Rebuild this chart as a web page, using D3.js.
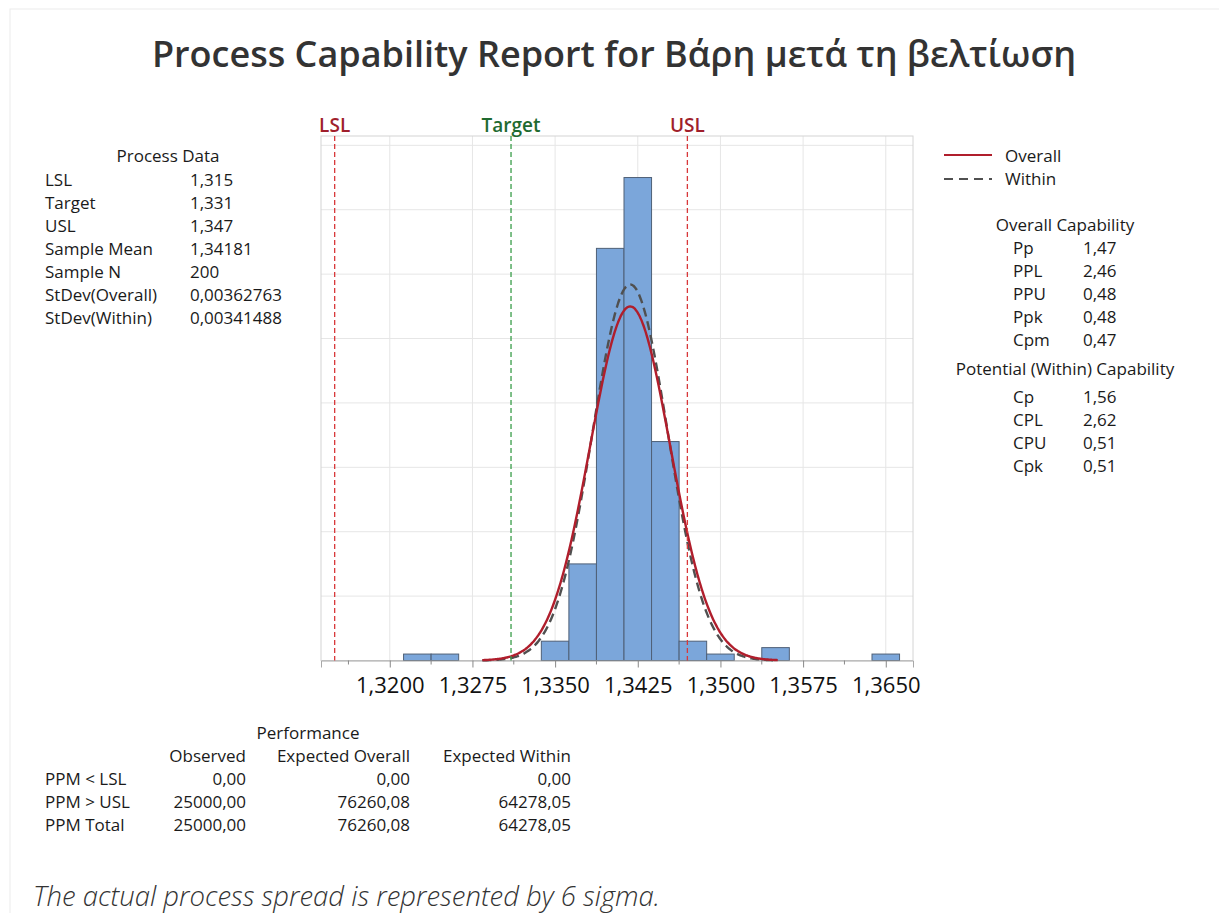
<!DOCTYPE html>
<html>
<head>
<meta charset="utf-8">
<script src="https://cdn.jsdelivr.net/npm/d3@7"></script>
<style>
  body { margin: 0; background: #fff; }
  svg { font-family: "Open Sans", "Noto Sans", sans-serif; }
</style>
</head>
<body>
<div id="chart"></div>
<script>
// histogram data (bin midpoints and frequencies)
var binCenters = [1.3225, 1.3250, 1.3350, 1.3375, 1.3400, 1.3425, 1.3450, 1.3475, 1.3500, 1.3550, 1.3650];
var counts = [1, 1, 3, 15, 64, 75, 34, 3, 1, 2, 1];
var binWidth = 0.0025;
var xTicks = [1.3200, 1.3275, 1.3350, 1.3425, 1.3500, 1.3575, 1.3650];
var yGrid = [10, 20, 30, 40, 50, 60, 70, 80];

// spec limits and sample stats
var specNames = ["LSL", "Target", "USL"];
var specValues = [1.315, 1.331, 1.347];
var sampleMean = 1.34181;
var sampleN = 200;
var sdOverall = 0.00362763;
var sdWithin = 0.00341488;

// side tables
var processLabels = ["LSL", "Target", "USL", "Sample Mean", "Sample N", "StDev(Overall)", "StDev(Within)"];
var processValues = ["1,315", "1,331", "1,347", "1,34181", "200", "0,00362763", "0,00341488"];
var overallLabels = ["Pp", "PPL", "PPU", "Ppk", "Cpm"];
var overallValues = ["1,47", "2,46", "0,48", "0,48", "0,47"];
var withinLabels = ["Cp", "CPL", "CPU", "Cpk"];
var withinValues = ["1,56", "2,62", "0,51", "0,51"];
var perfHeaders = ["Observed", "Expected Overall", "Expected Within"];
var perfRows = ["PPM < LSL", "PPM > USL", "PPM Total"];
var perfObserved = ["0,00", "25000,00", "25000,00"];
var perfOverall = ["0,00", "76260,08", "76260,08"];
var perfWithin = ["0,00", "64278,05", "64278,05"];

var width = 1219, height = 913;
var plot = { left: 321, top: 136, right: 913, bottom: 660.5 };

var svg = d3.select("#chart").append("svg")
    .attr("width", width)
    .attr("height", height);

// faint outer frame
svg.append("rect")
    .attr("x", 10).attr("y", 9)
    .attr("width", width).attr("height", height)
    .attr("fill", "none")
    .attr("stroke", "#ececec");

var x = d3.scaleLinear().domain([1.31376, 1.36747]).range([plot.left, plot.right]);
var y = d3.scaleLinear().domain([0, 81.45]).range([plot.bottom, plot.top]);

var comma = d3.formatLocale({ decimal: ",", thousands: "", grouping: [3], currency: ["", ""] });

// title
svg.append("text")
    .attr("x", 614).attr("y", 67)
    .attr("text-anchor", "middle")
    .attr("font-size", 36)
    .attr("font-weight", 600)
    .attr("fill", "#333")
    .text("Process Capability Report for Βάρη μετά τη βελτίωση");

// gridlines
svg.append("g").selectAll("line.v")
  .data(xTicks)
  .enter().append("line")
    .attr("x1", d => x(d)).attr("x2", d => x(d))
    .attr("y1", plot.top).attr("y2", plot.bottom)
    .attr("stroke", "#e6e6e6");

svg.append("g").selectAll("line.h")
  .data(yGrid)
  .enter().append("line")
    .attr("x1", plot.left).attr("x2", plot.right)
    .attr("y1", d => y(d)).attr("y2", d => y(d))
    .attr("stroke", "#e6e6e6");

// frame
svg.append("rect")
    .attr("x", plot.left).attr("y", plot.top)
    .attr("width", plot.right - plot.left).attr("height", plot.bottom - plot.top)
    .attr("fill", "none")
    .attr("stroke", "#d4d4d4");

// bars
svg.append("g").selectAll("rect")
  .data(binCenters)
  .enter().append("rect")
    .attr("x", d => x(d - binWidth / 2))
    .attr("width", d => x(d + binWidth / 2) - x(d - binWidth / 2))
    .attr("y", (d, i) => y(counts[i]))
    .attr("height", (d, i) => y(0) - y(counts[i]))
    .attr("fill", "#7ba6da")
    .attr("stroke", "#4f6077")
    .attr("stroke-width", 1);

// x axis
var minorTicks = [xTicks[0] - 0.00375].concat(xTicks.slice(0, -1).map(d => d + 0.00375));
var xAxis = d3.axisBottom(x)
    .tickValues(xTicks)
    .tickSize(7)
    .tickFormat(comma.format(".4f"));
var gx = svg.append("g")
    .attr("transform", "translate(0," + plot.bottom + ")")
    .call(xAxis);
gx.select(".domain").attr("stroke", "#a8a8a8");
gx.selectAll(".tick line").attr("stroke", "#888");
gx.selectAll(".tick text")
    .attr("font-family", "'Open Sans', sans-serif")
    .attr("font-size", 22)
    .attr("fill", "#111")
    .attr("dy", "1.0em");

svg.append("g").selectAll("line")
  .data(minorTicks)
  .enter().append("line")
    .attr("x1", d => x(d)).attr("x2", d => x(d))
    .attr("y1", plot.bottom).attr("y2", plot.bottom + 4)
    .attr("stroke", "#888");

// fitted normal curves
function normalCurve(sd) {
  var pts = d3.range(1.3284, 1.35525, 0.0001).map(function(v) {
    var z = (v - sampleMean) / sd;
    var dens = Math.exp(-0.5 * z * z) / (sd * Math.sqrt(2 * Math.PI));
    return [v, dens * sampleN * binWidth];
  });
  return pts;
}
var line = d3.line().x(d => x(d[0])).y(d => y(d[1])).curve(d3.curveBasis);

svg.append("path")
    .attr("d", line(normalCurve(sdWithin)))
    .attr("fill", "none")
    .attr("stroke", "#505050")
    .attr("stroke-width", 2.4)
    .attr("stroke-dasharray", "9,5");

svg.append("path")
    .attr("d", line(normalCurve(sdOverall)))
    .attr("fill", "none")
    .attr("stroke", "#b01e2c")
    .attr("stroke-width", 2.4);

// spec lines
var specLineColors = ["#d8383a", "#3a9e4a", "#d8383a"];
var specTextColors = ["#a01f2c", "#1f6a30", "#a01f2c"];
svg.append("g").selectAll("line")
  .data(specValues)
  .enter().append("line")
    .attr("x1", d => x(d)).attr("x2", d => x(d))
    .attr("y1", plot.top).attr("y2", plot.bottom)
    .attr("stroke", (d, i) => specLineColors[i])
    .attr("stroke-width", 1.3)
    .attr("stroke-dasharray", "5,3");

svg.append("g").selectAll("text")
  .data(specValues)
  .enter().append("text")
    .attr("x", d => x(d))
    .attr("y", 132)
    .attr("text-anchor", "middle")
    .attr("font-size", 19)
    .attr("font-weight", 600)
    .attr("fill", (d, i) => specTextColors[i])
    .text((d, i) => specNames[i]);

// helper for text blocks
function textCol(list, xPos, y0, step, anchor) {
  svg.append("g").selectAll("text")
    .data(list)
    .enter().append("text")
      .attr("x", xPos)
      .attr("y", (d, i) => y0 + i * step)
      .attr("text-anchor", anchor || "start")
      .attr("font-size", 17)
      .attr("fill", "#1a1a1a")
      .text(d => d);
}

// process data
textCol(["Process Data"], 168, 162, 0, "middle");
textCol(processLabels, 45, 186, 23);
textCol(processValues, 190, 186, 23);

// legend
svg.append("line").attr("x1", 944).attr("x2", 992).attr("y1", 155).attr("y2", 155)
    .attr("stroke", "#b01e2c").attr("stroke-width", 2.2);
svg.append("line").attr("x1", 944).attr("x2", 992).attr("y1", 179).attr("y2", 179)
    .attr("stroke", "#505050").attr("stroke-width", 2.2).attr("stroke-dasharray", "9,6");
textCol(["Overall", "Within"], 1005, 162, 23);

// capability
textCol(["Overall Capability"], 1065, 231, 0, "middle");
textCol(overallLabels, 1013, 254, 23);
textCol(overallValues, 1083, 254, 23);
textCol(["Potential (Within) Capability"], 1065, 375, 0, "middle");
textCol(withinLabels, 1013, 403, 23);
textCol(withinValues, 1083, 403, 23);

// performance table
textCol(["Performance"], 308, 739, 0, "middle");
textCol([perfHeaders[0]], 246, 762, 0, "end");
textCol([perfHeaders[1]], 410, 762, 0, "end");
textCol([perfHeaders[2]], 571, 762, 0, "end");
textCol(perfRows, 45, 785, 23);
textCol(perfObserved, 246, 785, 23, "end");
textCol(perfOverall, 410, 785, 23, "end");
textCol(perfWithin, 571, 785, 23, "end");

// footnote
svg.append("text")
    .attr("x", 33).attr("y", 906)
    .attr("font-size", 27.5)
    .attr("font-style", "italic")
    .attr("font-weight", 300)
    .attr("fill", "#333")
    .text("The actual process spread is represented by 6 sigma.");
</script>
</body>
</html>
